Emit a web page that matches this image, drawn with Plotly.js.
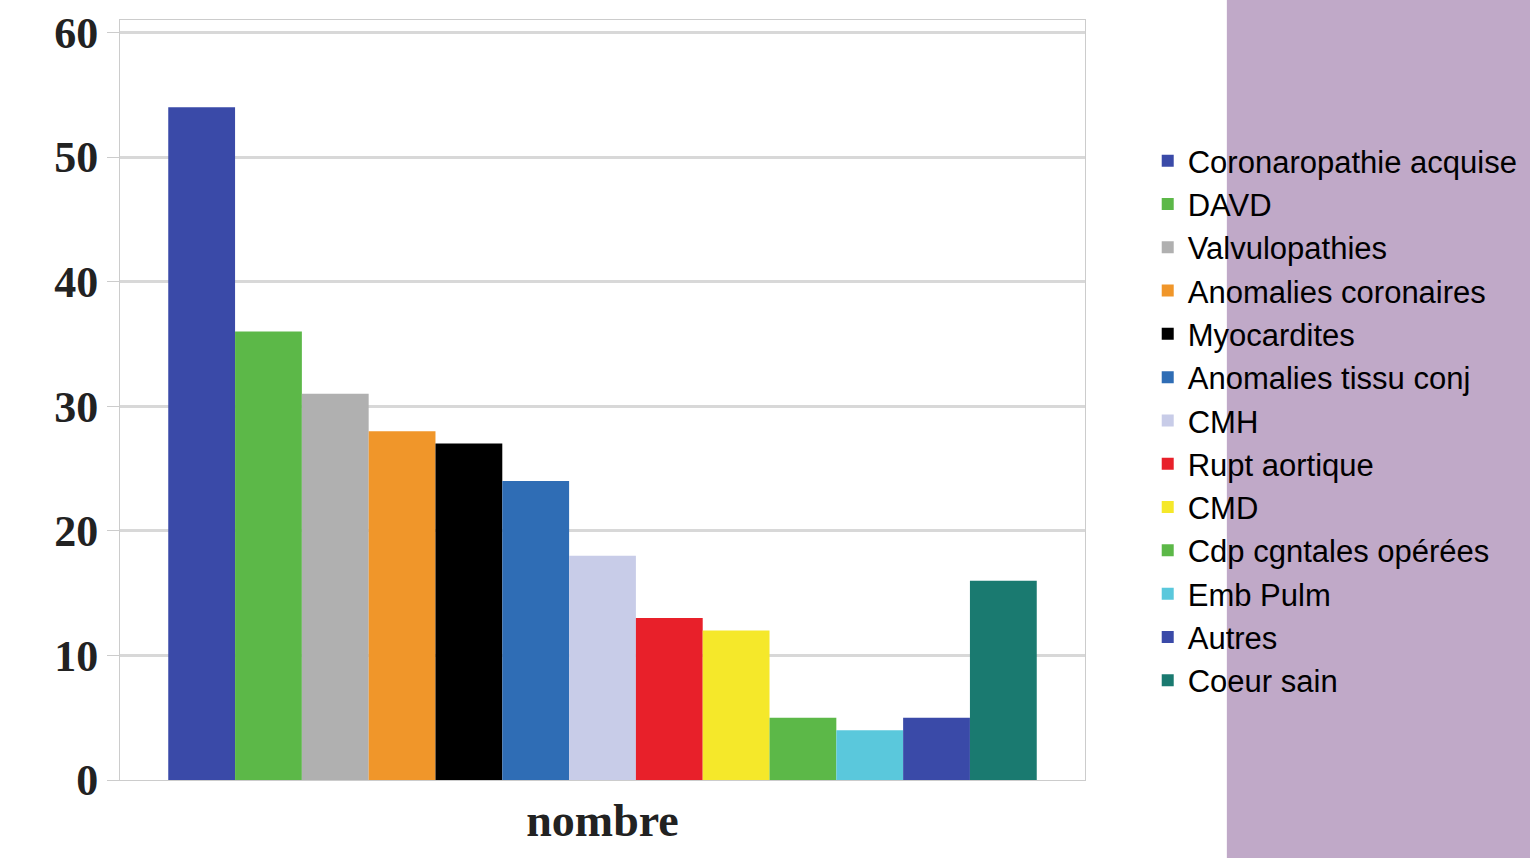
<!DOCTYPE html>
<html><head><meta charset="utf-8">
<script src="https://cdn.plot.ly/plotly-3.0.1.min.js"></script>
<style>body{margin:0}</style></head>
<body><div id="chart" style="width:1530px;height:858px"></div>
<script>
var categories = ["Coronaropathie acquise", "DAVD", "Valvulopathies", "Anomalies coronaires",
  "Myocardites", "Anomalies tissu conj", "CMH", "Rupt aortique", "CMD",
  "Cdp cgntales opérées", "Emb Pulm", "Autres", "Coeur sain"];
var values = [54, 36, 31, 28, 27, 24, 18, 13, 12, 5, 4, 5, 16];
var colors = ["#3a4aa8", "#5cb848", "#b0b0b0", "#f0962a", "#000000", "#2f6db5", "#c8cce8",
  "#e8202a", "#f5e82a", "#5cb848", "#5ac8dc", "#3a4aa8", "#1a7a70"];
var groupLabel = "nombre";

var data = categories.map(function (name, i) {
  return {
    type: 'bar', name: name, x: [groupLabel], y: [values[i]],
    marker: {color: colors[i]}
  };
});

var layout = {
  width: 1530, height: 858,
  margin: {l: 120, r: 445, t: 20, b: 78, autoexpand: false},
  paper_bgcolor: '#ffffff', plot_bgcolor: '#ffffff',
  barmode: 'group', bargap: 0.1, bargroupgap: 0,
  xaxis: {
    tickfont: {family: 'Liberation Serif', size: 46, color: '#222', weight: 'bold'},
    showline: true, linecolor: '#ccc', ticks: '', mirror: true
  },
  yaxis: {
    range: [0, 61], dtick: 10,
    tickfont: {family: 'Liberation Serif', size: 44, color: '#222', weight: 'bold'},
    gridcolor: '#d8d8d8', gridwidth: 3, showline: true, linecolor: '#ccc', mirror: true,
    ticks: 'outside', ticklen: 12, tickcolor: '#ccc'
  },
  showlegend: true,
  legend: {
    x: 1.065, y: 0.85, yanchor: 'top', maxheight: 800,
    font: {family: 'Liberation Sans', size: 31, color: '#000'},
    bgcolor: 'rgba(0,0,0,0)', tracegroupgap: 0, itemwidth: 30
  },
  shapes: [{
    type: 'rect', xref: 'paper', yref: 'paper', layer: 'below',
    x0: 1.147, x1: 1.47, y0: -0.11, y1: 1.03,
    fillcolor: '#c0a9c8', line: {width: 0}
  }]
};

Plotly.newPlot('chart', data, layout, {displayModeBar: false});
</script></body></html>
